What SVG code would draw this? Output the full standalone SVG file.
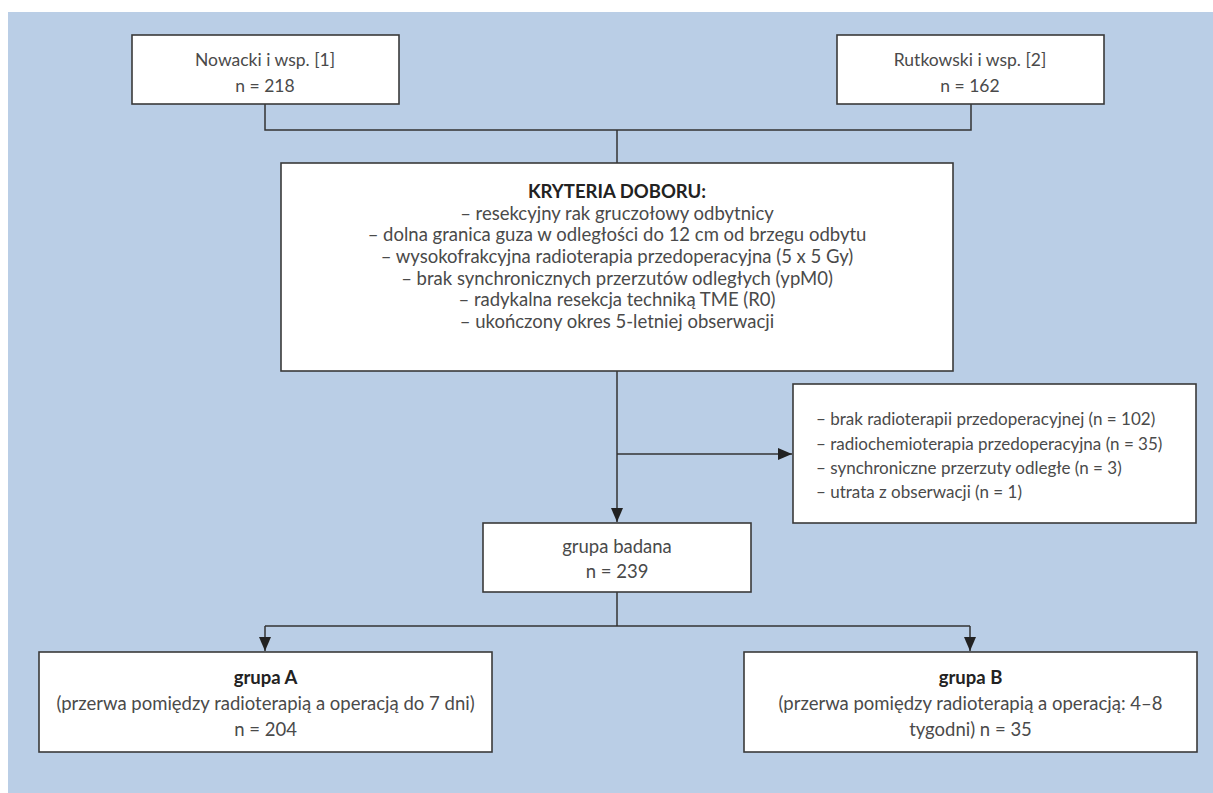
<svg xmlns="http://www.w3.org/2000/svg" width="1213" height="793" viewBox="0 0 1213 793">
<style>
.box{fill:#ffffff;stroke:#3a3a3a;stroke-width:1.6}
.ln{fill:none;stroke:#333;stroke-width:1.5}
text{font-family:Lato,"Liberation Sans",sans-serif;font-size:18.5px;fill:#4a4a4a;font-weight:400}
.c{text-anchor:middle}
.b{font-weight:700;fill:#222}
.s{font-size:17.5px}
.r{font-size:17px}
</style>
<defs>
<marker id="ah" viewBox="0 0 14 12" refX="14" refY="6" markerWidth="14" markerHeight="12" markerUnits="userSpaceOnUse" orient="auto">
<path d="M0,0 L14,6 L0,12 Z" fill="#222"/>
</marker>
</defs>
<rect x="0" y="0" width="1213" height="793" fill="#ffffff"/>
<rect x="8" y="12" width="1205" height="781" fill="#bacee6"/>
<g id="connectors">
<path class="ln" d="M265,104 V130 H971 V104"/>
<path class="ln" d="M617,130 V163"/>
<path class="ln" d="M617,371 V522" marker-end="url(#ah)"/>
<path class="ln" d="M617,454 H792" marker-end="url(#ah)"/>
<path class="ln" d="M617,592 V626"/>
<path class="ln" d="M265,626 H970"/>
<path class="ln" d="M265,626 V651" marker-end="url(#ah)"/>
<path class="ln" d="M970,626 V651" marker-end="url(#ah)"/>
</g>
<g id="nowacki">
<rect class="box" x="132" y="35" width="267" height="69"/>
<text class="c s" x="265" y="66">Nowacki i wsp. [1]</text>
<text class="c s" x="265" y="92">n = 218</text>
</g>
<g id="rutkowski">
<rect class="box" x="837" y="35" width="267" height="69"/>
<text class="c s" x="970" y="66">Rutkowski i wsp. [2]</text>
<text class="c s" x="970" y="92">n = 162</text>
</g>
<g id="kryteria">
<rect class="box" x="281" y="163" width="672" height="208"/>
<text class="c b" x="617" y="198">KRYTERIA DOBORU:</text>
<text class="c" x="617" y="219.5">– resekcyjny rak gruczołowy odbytnicy</text>
<text class="c" x="617" y="241">– dolna granica guza w odległości do 12 cm od brzegu odbytu</text>
<text class="c" x="617" y="263">– wysokofrakcyjna radioterapia przedoperacyjna (5 x 5 Gy)</text>
<text class="c" x="617" y="284.5">– brak synchronicznych przerzutów odległych (ypM0)</text>
<text class="c" x="617" y="306">– radykalna resekcja techniką TME (R0)</text>
<text class="c" x="617" y="328">– ukończony okres 5-letniej obserwacji</text>
</g>
<g id="wykluczeni">
<rect class="box" x="793" y="384" width="403" height="139"/>
<text class="r" x="816" y="425">– brak radioterapii przedoperacyjnej (n = 102)</text>
<text class="r" x="816" y="449.5">– radiochemioterapia przedoperacyjna (n = 35)</text>
<text class="r" x="816" y="474">– synchroniczne przerzuty odległe (n = 3)</text>
<text class="r" x="816" y="498">– utrata z obserwacji (n = 1)</text>
</g>
<g id="badana">
<rect class="box" x="483" y="523" width="268" height="69"/>
<text class="c" x="617" y="553">grupa badana</text>
<text class="c" x="617" y="578">n = 239</text>
</g>
<g id="grupaA">
<rect class="box" x="39" y="652" width="453" height="100"/>
<text class="c b" x="265.5" y="684">grupa A</text>
<text class="c" x="265.5" y="710">(przerwa pomiędzy radioterapią a operacją do 7 dni)</text>
<text class="c" x="265.5" y="736">n = 204</text>
</g>
<g id="grupaB">
<rect class="box" x="744" y="652" width="453" height="100"/>
<text class="c b" x="970.5" y="684">grupa B</text>
<text class="c" x="970.5" y="710">(przerwa pomiędzy radioterapią a operacją: 4–8</text>
<text class="c" x="970.5" y="736">tygodni) n = 35</text>
</g>
</svg>
